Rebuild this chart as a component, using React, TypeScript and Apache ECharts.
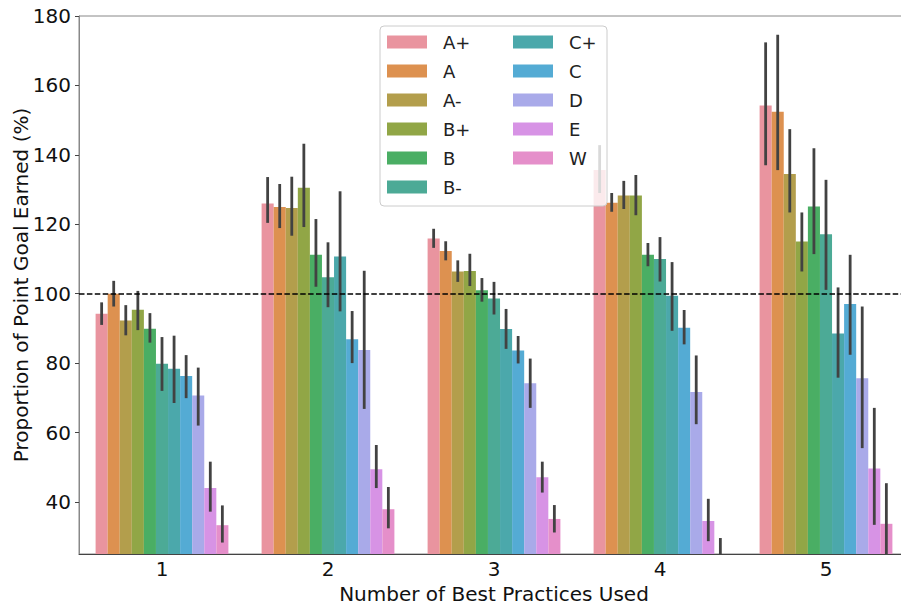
import React, { useEffect, useRef } from "react";
import * as echarts from "echarts";

const categories = ["1", "2", "3", "4", "5"];
const grades = ["A+", "A", "A-", "B+", "B", "B-", "C+", "C", "D", "E", "W"];
const gradeColors = [
  "#e9949f", "#dd9150", "#b39e4c", "#91a646", "#4aae64", "#4caa96",
  "#4ba8ab", "#54abd4", "#a9aae9", "#d793e5", "#e58fca",
];

// mean values per grade, for groups 1..5
const meanAPlus = [94.2, 126.0, 115.9, 135.6, 154.2];
const meanA = [100.0, 125.0, 112.3, 126.2, 152.4];
const meanAMinus = [92.3, 124.7, 106.4, 128.3, 134.5];
const meanBPlus = [95.4, 130.5, 106.5, 128.3, 115.0];
const meanB = [89.9, 111.2, 101.0, 111.2, 125.1];
const meanBMinus = [79.8, 104.7, 98.6, 110.0, 117.1];
const meanCPlus = [78.4, 110.7, 89.8, 99.4, 88.5];
const meanC = [76.3, 86.9, 83.6, 90.2, 97.0];
const meanD = [70.7, 83.8, 74.2, 71.7, 75.6];
const meanE = [44.0, 49.4, 47.1, 34.5, 49.6];
const meanW = [33.3, 37.9, 35.1, 22.0, 33.7];

// confidence interval lower bounds
const lowAPlus = [91.0, 120.4, 113.2, 129.0, 137.0];
const lowA = [96.3, 118.9, 109.6, 123.6, 135.6];
const lowAMinus = [88.0, 116.7, 103.4, 124.4, 123.4];
const lowBPlus = [89.5, 119.2, 102.2, 122.6, 106.4];
const lowB = [85.9, 102.0, 97.7, 107.9, 111.4];
const lowBMinus = [72.0, 96.1, 94.0, 103.5, 101.1];
const lowCPlus = [68.5, 94.9, 84.1, 89.3, 75.8];
const lowC = [69.9, 80.0, 79.9, 85.4, 82.4];
const lowD = [62.0, 66.8, 67.1, 62.4, 55.5];
const lowE = [37.2, 44.0, 42.7, 28.7, 33.4];
const lowW = [28.3, 32.4, 31.2, 14.0, 22.0];

// confidence interval upper bounds
const highAPlus = [97.5, 133.6, 118.7, 142.8, 172.4];
const highA = [103.7, 131.6, 115.1, 129.0, 174.6];
const highAMinus = [96.7, 133.7, 109.6, 132.5, 147.4];
const highBPlus = [100.8, 143.2, 111.5, 134.2, 123.4];
const highB = [94.4, 121.5, 104.5, 114.6, 141.9];
const highBMinus = [87.5, 114.8, 103.4, 116.3, 132.8];
const highCPlus = [87.9, 129.5, 95.6, 109.1, 101.8];
const highC = [82.3, 95.0, 87.8, 95.3, 111.2];
const highD = [78.7, 106.6, 81.3, 82.2, 96.3];
const highE = [51.6, 56.4, 51.6, 40.9, 67.1];
const highW = [39.0, 44.3, 39.1, 29.6, 45.4];

const yTicks = [40, 60, 80, 100, 120, 140, 160, 180];
const goalLine = 100;
const Y_MIN = 25;
const Y_MAX = 180;

const means = [meanAPlus, meanA, meanAMinus, meanBPlus, meanB, meanBMinus, meanCPlus, meanC, meanD, meanE, meanW];
const lows = [lowAPlus, lowA, lowAMinus, lowBPlus, lowB, lowBMinus, lowCPlus, lowC, lowD, lowE, lowW];
const highs = [highAPlus, highA, highAMinus, highBPlus, highB, highBMinus, highCPlus, highC, highD, highE, highW];

const FONT = "DejaVu Sans";

export default function App() {
  const ref = useRef<HTMLDivElement>(null);
  useEffect(() => {
    if (!ref.current) return;
    const chart = echarts.init(ref.current, null, { renderer: "svg" });
    const nG = grades.length;

    const barSeries: any[] = grades.map((g, gi) => ({
      name: g,
      type: "bar",
      data: means[gi],
      itemStyle: { color: gradeColors[gi] },
      barGap: "0%",
      barCategoryGap: "20%",
      z: 2,
      ...(gi === 0
        ? {
            markLine: {
              silent: true,
              symbol: "none",
              label: { show: false },
              lineStyle: { color: "#000", type: [5.5, 2.4], width: 1.5 },
              data: [{ yAxis: goalLine }],
              z: 3,
            },
          }
        : {}),
    }));

    const errData: number[][] = [];
    grades.forEach((_, gi) => {
      categories.forEach((__, ci) => {
        errData.push([ci, gi, lows[gi][ci], highs[gi][ci]]);
      });
    });

    const errSeries = {
      type: "custom",
      name: "ci",
      z: 2.5,
      data: errData,
      encode: { x: 0, y: [2, 3] },
      renderItem: (params: any, api: any) => {
        const ci = api.value(0);
        const gi = api.value(1);
        const lo = Math.max(api.value(2), Y_MIN);
        const hi = Math.min(api.value(3), Y_MAX);
        const band = api.size([1, 0])[0];
        const bw = (band * 0.8) / nG;
        const p1 = api.coord([ci, lo]);
        const p2 = api.coord([ci, hi]);
        const x = p1[0] + (gi - (nG - 1) / 2) * bw;
        return {
          type: "line",
          shape: { x1: x, y1: p1[1], x2: x, y2: p2[1] },
          style: { stroke: "#424242", lineWidth: 2.8 },
        };
      },
    };

    const legendCommon = {
      orient: "vertical",
      padding: 0,
      itemWidth: 40,
      itemHeight: 13,
      itemGap: 11,
      icon: "rect",
      z: 5,
      textStyle: { fontFamily: FONT, fontSize: 18, color: "#222", padding: [0, 0, 0, 11] },
    };

    chart.setOption({
      animation: false,
      textStyle: { fontFamily: FONT },
      grid: {
        left: 79,
        top: 16,
        width: 830,
        bottom: 51,
        show: true,
        borderColor: "#888",
        borderWidth: 1,
        backgroundColor: "transparent",
        containLabel: false,
        outerBoundsMode: "none",
      },
      legend: [
        { ...legendCommon, left: 387, top: 33, data: grades.slice(0, 6) },
        { ...legendCommon, left: 513, top: 33, data: grades.slice(6) },
      ],
      graphic: [
        {
          type: "rect",
          z: 3,
          shape: { x: 380, y: 26, width: 227, height: 180, r: 4 },
          style: { fill: "rgba(255,255,255,0.8)", stroke: "#cccccc", lineWidth: 1 },
        },
      ],
      xAxis: {
        type: "category",
        data: categories,
        axisLine: { lineStyle: { color: "#444", width: 1 } },
        axisTick: { alignWithLabel: true, length: 4, lineStyle: { color: "#444" } },
        axisLabel: { fontSize: 20, color: "#111", margin: 5, fontFamily: FONT },
        name: "Number of Best Practices Used",
        nameLocation: "middle",
        nameGap: 27,
        nameTextStyle: { fontSize: 20, color: "#111", fontFamily: FONT },
      },
      yAxis: {
        type: "value",
        min: Y_MIN,
        max: Y_MAX,
        splitLine: { show: false },
        axisLine: { show: true, lineStyle: { color: "#888", width: 1 } },
        axisTick: { show: true, length: 4, lineStyle: { color: "#444" }, customValues: yTicks },
        axisLabel: { fontSize: 20, color: "#111", margin: 8, fontFamily: FONT, customValues: yTicks },
        name: "Proportion of Point Goal Earned (%)",
        nameLocation: "middle",
        nameGap: 48,
        nameMoveOverlap: false,
        nameTextStyle: { fontSize: 20, color: "#111", fontFamily: FONT },
      },
      series: [...barSeries, errSeries],
    });
    return () => chart.dispose();
  }, []);
  return (
    <div
      ref={ref}
      style={{ position: "fixed", left: 0, top: 0, width: 901, height: 605, background: "#fff" }}
    />
  );
}
